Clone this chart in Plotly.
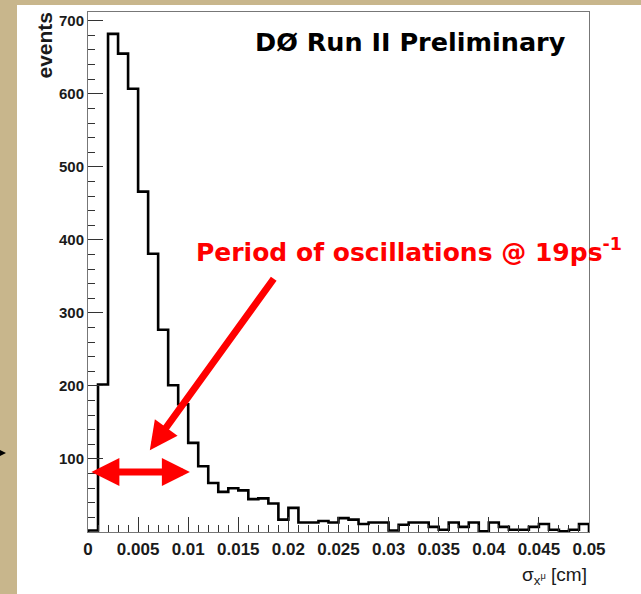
import plotly.graph_objects as go

# ---- data ----
BIN_WIDTH = 0.001
bin_counts = [2, 202, 682, 655, 607, 466, 381, 277, 201, 175,
              122, 90, 67, 55, 60, 57, 45, 46, 39, 17,
              33, 13, 13, 15, 13, 19, 17, 11, 13, 13,
              2, 10, 13, 13, 7, 3, 13, 7, 13, 1,
              13, 7, 3, 3, 7, 11, 3, 1, 3, 11]
x_tickvals = [0, 0.005, 0.01, 0.015, 0.02, 0.025, 0.03, 0.035, 0.04, 0.045, 0.05]
x_ticktext = ["0", "0.005", "0.01", "0.015", "0.02", "0.025", "0.03", "0.035", "0.04", "0.045", "0.05"]
y_tickvals = [100, 200, 300, 400, 500, 600, 700]
y_ticktext = ["100", "200", "300", "400", "500", "600", "700"]
x_range = [0, 0.05]
y_range = [0, 712]

# step outline (ROOT-style histogram)
bin_lo = [round(i * BIN_WIDTH, 6) for i in range(len(bin_counts))]
x_hi = round(len(bin_counts) * BIN_WIDTH, 6)
xs = [0] + bin_lo + [x_hi]
ys = [0] + bin_counts + [0]

TAN = "#c8b68c"
TICKFONT = "Liberation Sans, Arial, sans-serif"

fig = go.Figure()
fig.add_trace(go.Scatter(x=xs, y=ys, mode="lines", line=dict(color="black", width=2.6, shape="hv"),
                         hoverinfo="skip", showlegend=False, cliponaxis=False))

L, R, T, B = 88, 52, 12, 62
W, H = 641, 594
pw, ph = W - L - R, H - T - B

def px(xp):
    return (xp - L) / pw

def py(yp):
    return (H - B - yp) / ph

fig.update_layout(
    width=W, height=H, autosize=False,
    margin=dict(l=L, r=R, t=T, b=B, pad=0),
    paper_bgcolor=TAN, plot_bgcolor="white",
    showlegend=False,
    xaxis=dict(range=x_range, showgrid=False, zeroline=False,
               showline=True, linecolor="#777", linewidth=1, mirror=True,
               ticks="inside", ticklen=15, tickcolor="#333", tickwidth=1,
               tickvals=x_tickvals, ticktext=x_ticktext,
               tickfont=dict(family=TICKFONT, size=17, color="#1a1a1a", weight="bold"),
               ticklabelstandoff=2,
               minor=dict(dtick=BIN_WIDTH, ticks="inside", ticklen=7, tickcolor="#333", tickwidth=1)),
    yaxis=dict(range=y_range, showgrid=False, zeroline=False,
               showline=True, linecolor="#777", linewidth=1, mirror=True,
               ticks="inside", ticklen=15, tickcolor="#333", tickwidth=1,
               tickvals=y_tickvals, ticktext=y_ticktext,
               tickfont=dict(family=TICKFONT, size=15, color="#1a1a1a", weight="bold"),
               minor=dict(dtick=20, ticks="inside", ticklen=7, tickcolor="#333", tickwidth=1)),
    shapes=[
        dict(type="rect", xref="paper", yref="paper", x0=px(17), x1=px(W + 5), y0=py(H + 5), y1=py(5),
             fillcolor="white", line=dict(width=0), layer="below"),
        dict(type="path", xref="paper", yref="paper",
             path=f"M {px(0)},{py(450)} L {px(6)},{py(453)} L {px(0)},{py(456)} Z",
             fillcolor="black", line=dict(width=0)),
    ],
)

annotations = [
    dict(text="<b>DØ Run II Preliminary</b>", x=px(568), y=py(42), xref="paper", yref="paper",
         xanchor="right", yanchor="middle", showarrow=False,
         font=dict(family="DejaVu Sans, Liberation Sans, sans-serif", size=25.5, color="black")),
    dict(text="<b>Period of oscillations @ 19ps<sup>-1</sup></b>", x=px(194), y=py(250), xref="paper", yref="paper",
         xanchor="left", yanchor="middle", showarrow=False,
         font=dict(family="DejaVu Sans, Liberation Sans, sans-serif", size=25, color="#ff0000")),
    dict(text="<b>events</b>", x=px(44), y=py(10), xref="paper", yref="paper",
         xanchor="center", yanchor="top", textangle=-90, showarrow=False,
         font=dict(family=TICKFONT, size=21, color="#1a1a1a")),
    dict(text="σ<sub>x<sup>μ</sup></sub> [cm]", x=px(589), y=py(576), xref="paper", yref="paper",
         xanchor="right", yanchor="middle", showarrow=False,
         font=dict(family=TICKFONT, size=19, color="#1a1a1a")),
    # diagonal red arrow
    dict(text="", x=0.00617, y=112, xref="x", yref="y", ax=125, ay=-173,
         showarrow=True, arrowhead=2, arrowsize=0.8, arrowwidth=7, arrowcolor="#ff0000", standoff=0),
    # double-headed red arrow
    dict(text="", x=0.01017, y=82, xref="x", yref="y", ax=-100, ay=0,
         showarrow=True, arrowside="end+start", arrowhead=2, startarrowhead=2,
         arrowsize=0.8, startarrowsize=0.8, arrowwidth=7, arrowcolor="#ff0000",
         standoff=0, startstandoff=0),
]
fig.update_layout(annotations=annotations)

fig.write_html("out.html")
